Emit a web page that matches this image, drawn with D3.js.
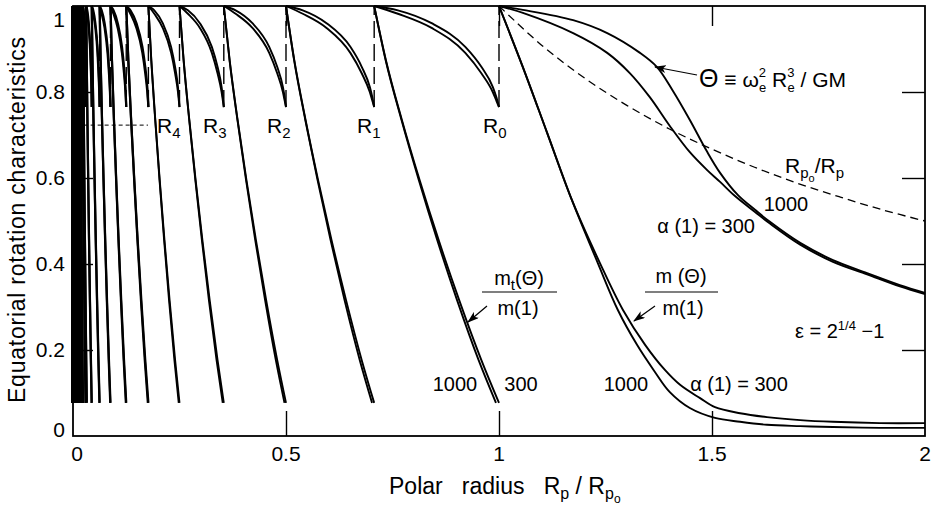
<!DOCTYPE html>
<html><head><meta charset="utf-8">
<script src="https://cdn.jsdelivr.net/npm/d3@7"></script>
<style>
body{margin:0;background:#fff;}
svg{display:block;font-family:"Liberation Sans",Arial,sans-serif;fill:#000;}
.pre{white-space:pre;}
</style></head><body>
<svg id="c" width="932" height="506"></svg>
<script>
// ---------- data ----------
const xTicks=[0,0.5,1,1.5,2];
const xTickLabels=["0","0.5","1","1.5","2"];
const yTicks=[0,0.2,0.4,0.6,0.8,1];
const yTickLabels=["0","0.2","0.4","0.6","0.8","1"];
const innerTicksY=[0.2,0.4,0.6,0.8];
const innerTicksX=[0.5,1,1.5];

// successive fission radii R0, R1, R2, ... (Rp/Rp0)
const fissionRadii=[1,0.707,0.5,0.354,0.25,0.177,0.125,0.088,0.0625,0.044,0.031,0.022,0.0156,0.011,0.0078,0.0055,0.0039,0.0028,0.002,0.0014,0.001,0.0007,0.0005,0.00035,0.00025,0.00018,0.00012,0.00009,0.00006,0.00004,0.00002,0];
const labelledRadii=["R0","R1","R2","R3","R4"];

// shape of one fission interval: [fraction of interval, value]
const thetaShape300=[[0,1],[0.19,0.99],[0.46,0.96],[0.73,0.905],[0.86,0.858],[0.95,0.812],[0.98,0.787],[1,0.765]];
const thetaShape1000=[[0,1],[0.19,0.982],[0.46,0.949],[0.73,0.891],[0.86,0.843],[0.95,0.800],[0.98,0.779],[1,0.765]];
const mtShape300=[[0,1],[0.094,0.874],[0.222,0.735],[0.364,0.595],[0.516,0.456],[0.681,0.316],[0.858,0.177],[1.0,0.077]];
const mtShape1000=[[0,1],[0.092,0.874],[0.219,0.735],[0.358,0.595],[0.505,0.456],[0.664,0.316],[0.836,0.177],[0.976,0.077]];
const thetaEnd=0.765;

// beyond Rp = Rp0
const mTheta300=[[1,1],[1.056,0.858],[1.113,0.705],[1.171,0.549],[1.237,0.402],[1.291,0.293],[1.343,0.212],[1.390,0.153],[1.425,0.119],[1.472,0.088],[1.507,0.067],[1.566,0.053],[1.629,0.044],[1.707,0.037],[1.784,0.033],[1.894,0.030],[2,0.030]];
const mTheta1000=[[1,1],[1.056,0.858],[1.113,0.705],[1.171,0.549],[1.232,0.402],[1.279,0.293],[1.324,0.212],[1.366,0.149],[1.401,0.102],[1.448,0.065],[1.507,0.042],[1.566,0.033],[1.629,0.026],[1.707,0.023],[1.784,0.021],[1.894,0.019],[2,0.019]];
const theta300=[[1,1],[1.056,0.991],[1.174,0.967],[1.254,0.937],[1.331,0.891],[1.371,0.858],[1.408,0.803],[1.448,0.735],[1.488,0.662],[1.519,0.612],[1.561,0.560],[1.601,0.526],[1.636,0.498],[1.707,0.449],[1.784,0.409],[1.864,0.379],[1.941,0.351],[2,0.333]];
const theta1000=[[1,1],[1.056,0.984],[1.174,0.937],[1.254,0.891],[1.307,0.844],[1.354,0.788],[1.401,0.721],[1.448,0.660],[1.488,0.619],[1.519,0.591],[1.554,0.558],[1.601,0.521],[1.636,0.494],[1.707,0.445],[1.784,0.405],[1.864,0.376],[1.941,0.348],[2,0.330]];
const rpRatio=[[1,1],[1.1,0.909],[1.2,0.833],[1.3,0.769],[1.4,0.714],[1.5,0.667],[1.6,0.625],[1.7,0.588],[1.8,0.556],[1.9,0.526],[2,0.5]];
const guideLine=[[0.025,0.723],[0.176,0.723]];

// ---------- drawing ----------
const svg=d3.select("#c");
const x=d3.scaleLinear().domain([0,2]).range([73,925]);
const y=d3.scaleLinear().domain([0,1]).range([436,6]);
const line=d3.line().x(d=>x(d[0])).y(d=>y(d[1])).curve(d3.curveMonotoneX);
const smooth=d3.line().x(d=>x(d[0])).y(d=>y(d[1])).curve(d3.curveCatmullRom.alpha(0.5));
const plain=d3.line().x(d=>x(d[0])).y(d=>y(d[1]));

svg.append("defs").append("marker").attr("id","ah").attr("viewBox","0 0 12 8")
  .attr("refX",11).attr("refY",4).attr("markerWidth",12).attr("markerHeight",8)
  .attr("markerUnits","userSpaceOnUse").attr("orient","auto")
  .append("path").attr("d","M0,0 L12,4 L0,8 L3,4 Z").attr("fill","#000");

const g=svg.append("g").attr("fill","none").attr("stroke","#000");

function mapShape(shape,lo,hi){return shape.map(([t,v])=>[lo+t*(hi-lo),v]);}

for(let i=0;i<fissionRadii.length-1;i++){
  const hi=fissionRadii[i], lo=fissionRadii[i+1];
  const sw=i<5?1.9:(i<10?2.2:3.4);
  [thetaShape300,thetaShape1000].forEach(s=>g.append("path").attr("d",line(mapShape(s,lo,hi))).attr("stroke-width",sw));
  [mtShape300,mtShape1000].forEach(s=>g.append("path").attr("d",line(mapShape(s,lo,hi))).attr("stroke-width",sw));
  if(i<12){
    g.append("path").attr("d",plain([[hi,thetaEnd],[hi,1]])).attr("stroke-width",1.4).attr("stroke-dasharray","17,6");
  }
}
[mTheta300,mTheta1000,theta300,theta1000].forEach(s=>g.append("path").attr("d",smooth(s)).attr("stroke-width",1.9));
g.append("path").attr("d",smooth(rpRatio)).attr("stroke-width",1.3).attr("stroke-dasharray","8,5");
g.append("path").attr("d",plain(guideLine)).attr("stroke-width",1).attr("stroke-dasharray","4,3");

// frame
g.append("rect").attr("x",x(0)).attr("y",y(1)).attr("width",x(2)-x(0)).attr("height",y(0)-y(1)).attr("stroke-width",1.8);

// inner ticks
function ticks(gen,tr){
  const a=svg.append("g").attr("transform",tr).call(gen);
  a.select(".domain").remove();
  a.selectAll("line").attr("stroke","#000").attr("stroke-width",1.4);
  return a;
}
ticks(d3.axisBottom(x).tickValues(innerTicksX).tickSize(-25).tickFormat(""),`translate(0,${y(0)})`);
ticks(d3.axisTop(x).tickValues(innerTicksX).tickSize(-20).tickFormat(""),`translate(0,${y(1)})`);
ticks(d3.axisLeft(y).tickValues(innerTicksY).tickSize(-20).tickFormat(""),`translate(${x(0)},0)`);
ticks(d3.axisRight(y).tickValues(innerTicksY).tickSize(-23).tickFormat(""),`translate(${x(2)},0)`);

// x tick labels
const xl=svg.append("g").attr("transform",`translate(0,${y(0)})`)
  .call(d3.axisBottom(x).tickValues(xTicks).tickSize(0).tickPadding(10).tickFormat((d,i)=>xTickLabels[i]));
xl.select(".domain").remove();
xl.selectAll("text").attr("font-size",21).attr("font-family","Liberation Sans, Arial, sans-serif").attr("fill","#000");
xl.selectAll(".tick").attr("transform",d=>`translate(${x(d)+(d===0?4:0)},0)`);

// y tick labels
svg.append("g").selectAll("text").data(yTicks).join("text")
  .attr("x",65).attr("text-anchor","end").attr("font-size",21)
  .attr("y",d=>y(d)+(d===1?21:d===0?1:7))
  .text((d,i)=>yTickLabels[i]);

// axis titles
svg.append("text").attr("class","pre").attr("x",389).attr("y",494).attr("font-size",23)
  .call(t=>{
    t.append("tspan").text("Polar   radius   R");
    t.append("tspan").attr("font-size",16).attr("dy",5).text("p");
    t.append("tspan").attr("dy",-5).text(" / R");
    t.append("tspan").attr("font-size",16).attr("dy",5).text("p");
    t.append("tspan").attr("font-size",12).attr("dy",4).text("o");
  });
svg.append("text").attr("transform","translate(25,220) rotate(-90)").attr("text-anchor","middle")
  .attr("font-size",23).attr("textLength",366).attr("lengthAdjust","spacing")
  .text("Equatorial rotation characteristics");

// R labels
const rLabelX=[483,357,267,203,157];
labelledRadii.forEach((r,i)=>{
  const t=svg.append("text").attr("x",rLabelX[i]).attr("y",133).attr("font-size",21);
  t.append("tspan").text("R");
  t.append("tspan").attr("font-size",15).attr("dy",5).text(r.slice(1));
});

// annotations
const th=svg.append("text").attr("x",699).attr("y",87).attr("font-size",21);
th.append("tspan").attr("font-size",25).text("Θ");
th.append("tspan").text(" ≡ ω");
th.append("tspan").attr("font-size",13).attr("dy",-10).text("2");
th.append("tspan").attr("font-size",13).attr("dx",-7).attr("dy",15).text("e");
th.append("tspan").attr("dy",-5).text(" R");
th.append("tspan").attr("font-size",13).attr("dy",-10).text("3");
th.append("tspan").attr("font-size",13).attr("dx",-7).attr("dy",15).text("e");
th.append("tspan").attr("dy",-5).text(" / GM");
svg.append("line").attr("x1",697).attr("y1",75).attr("x2",655).attr("y2",67).attr("stroke","#000").attr("stroke-width",1.2).attr("marker-end","url(#ah)");

const rp=svg.append("text").attr("x",785).attr("y",173).attr("font-size",21);
rp.append("tspan").text("R");
rp.append("tspan").attr("font-size",15).attr("dy",5).text("p");
rp.append("tspan").attr("font-size",11).attr("dy",4).text("o");
rp.append("tspan").attr("dy",-9).text("/R");
rp.append("tspan").attr("font-size",15).attr("dy",5).text("p");

function txt(s,xx,yy,anchor){return svg.append("text").attr("x",xx).attr("y",yy).attr("font-size",20).attr("text-anchor",anchor||"middle").text(s);}
txt("1000",786,211);
txt("α (1) = 300",755,233,"end");
txt("1000",455,391);
txt("300",521,391);
txt("1000",626,391);
txt("α (1) = 300",739,391);

// fractions
const f1=svg.append("text").attr("x",519).attr("y",285).attr("font-size",20).attr("text-anchor","middle");
f1.append("tspan").text("m");
f1.append("tspan").attr("font-size",15).attr("dy",5).text("t");
f1.append("tspan").attr("dy",-5).text("(Θ)");
svg.append("line").attr("x1",482).attr("x2",557).attr("y1",292).attr("y2",292).attr("stroke","#000").attr("stroke-width",1.2);
txt("m(1)",518,315);
svg.append("line").attr("x1",487).attr("y1",306).attr("x2",468).attr("y2",322).attr("stroke","#000").attr("stroke-width",1.2).attr("marker-end","url(#ah)");

txt("m (Θ)",681,283);
svg.append("line").attr("x1",645).attr("x2",718).attr("y1",292).attr("y2",292).attr("stroke","#000").attr("stroke-width",1.2);
txt("m(1)",683,315);
svg.append("line").attr("x1",655).attr("y1",306).attr("x2",634).attr("y2",321).attr("stroke","#000").attr("stroke-width",1.2).attr("marker-end","url(#ah)");

const ep=svg.append("text").attr("x",795).attr("y",338).attr("font-size",20);
ep.append("tspan").text("ε = 2");
ep.append("tspan").attr("font-size",13).attr("dy",-8).text("1/4");
ep.append("tspan").attr("dy",8).text(" −1");
</script>
</body></html>
